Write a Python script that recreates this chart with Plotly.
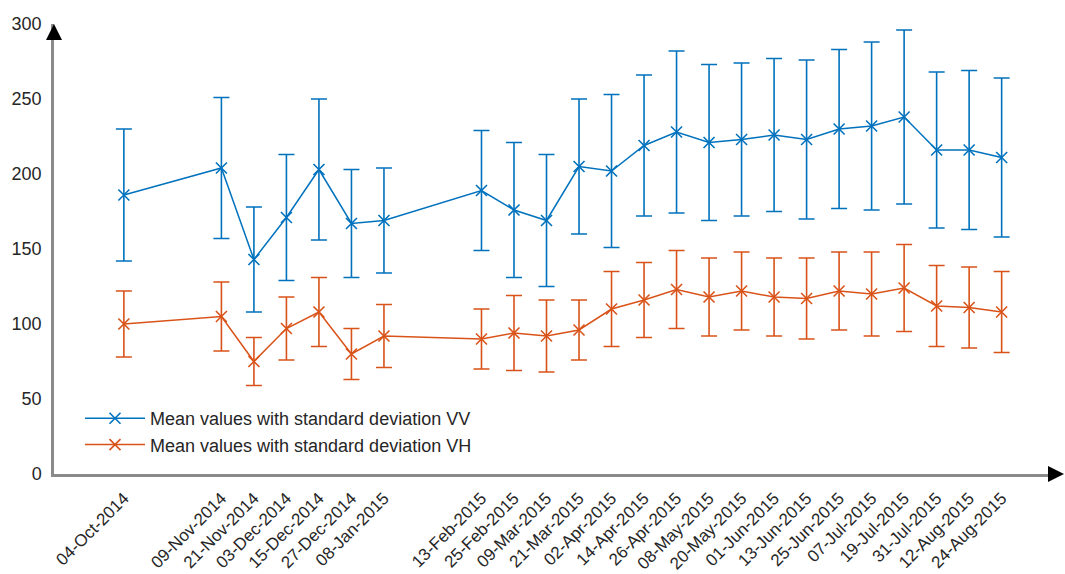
import plotly.graph_objects as go

# Acquisition dates (Sentinel-1 scenes)
dates = [
    "2014-10-04", "2014-11-09", "2014-11-21", "2014-12-03", "2014-12-15",
    "2014-12-27", "2015-01-08", "2015-02-13", "2015-02-25", "2015-03-09",
    "2015-03-21", "2015-04-02", "2015-04-14", "2015-04-26", "2015-05-08",
    "2015-05-20", "2015-06-01", "2015-06-13", "2015-06-25", "2015-07-07",
    "2015-07-19", "2015-07-31", "2015-08-12", "2015-08-24",
]
date_labels = [
    "04-Oct-2014", "09-Nov-2014", "21-Nov-2014", "03-Dec-2014", "15-Dec-2014",
    "27-Dec-2014", "08-Jan-2015", "13-Feb-2015", "25-Feb-2015", "09-Mar-2015",
    "21-Mar-2015", "02-Apr-2015", "14-Apr-2015", "26-Apr-2015", "08-May-2015",
    "20-May-2015", "01-Jun-2015", "13-Jun-2015", "25-Jun-2015", "07-Jul-2015",
    "19-Jul-2015", "31-Jul-2015", "12-Aug-2015", "24-Aug-2015",
]

# VV polarisation: mean and standard deviation
vv_mean = [186, 204, 143, 171, 203, 167, 169, 189, 176, 169, 205, 202,
           219, 228, 221, 223, 226, 223, 230, 232, 238, 216, 216, 211]
vv_std = [44, 47, 35, 42, 47, 36, 35, 40, 45, 44, 45, 51,
          47, 54, 52, 51, 51, 53, 53, 56, 58, 52, 53, 53]

# VH polarisation: mean and standard deviation
vh_mean = [100, 105, 75, 97, 108, 80, 92, 90, 94, 92, 96, 110,
           116, 123, 118, 122, 118, 117, 122, 120, 124, 112, 111, 108]
vh_std = [22, 23, 16, 21, 23, 17, 21, 20, 25, 24, 20, 25,
          25, 26, 26, 26, 26, 27, 26, 28, 29, 27, 27, 27]

y_ticks = [0, 50, 100, 150, 200, 250, 300]

BLUE = "#0072BD"
ORANGE = "#D95319"
AXIS_GREY = "#8a8a8a"
TEXT = "#262626"
FONT = "Liberation Sans, Arial, sans-serif"

W, H = 1065, 574
ML, MR, MT, MB = 54, 13, 24, 100


def series(name, mean, std, color):
    return go.Scatter(
        x=dates, y=mean, name=name, mode="lines+markers",
        line=dict(color=color, width=1.5),
        marker=dict(symbol="x-thin", size=11,
                    line=dict(color=color, width=1.6)),
        error_y=dict(type="data", array=std, visible=True,
                     color=color, thickness=1.6, width=8),
    )


fig = go.Figure()
fig.add_trace(series("Mean values with standard deviation VV", vv_mean, vv_std, BLUE))
fig.add_trace(series("Mean values with standard deviation VH", vh_mean, vh_std, ORANGE))

plot_w = W - ML - MR
plot_h = H - MT - MB

fig.update_layout(
    width=W, height=H,
    margin=dict(l=ML, r=MR, t=MT, b=MB, pad=0, autoexpand=False),
    paper_bgcolor="white", plot_bgcolor="white",
    font=dict(family=FONT, size=18, color=TEXT),
    showlegend=True,
    legend=dict(
        x=(80 - ML) / plot_w, y=(H - MB - 400) / plot_h,
        xanchor="left", yanchor="top",
        bgcolor="rgba(0,0,0,0)", borderwidth=0,
        font=dict(family=FONT, size=18, color=TEXT),
        itemwidth=60, tracegroupgap=0,
    ),
    xaxis=dict(
        type="date", automargin=False,
        range=["2014-09-08 05:00", "2015-09-11 14:00"],
        tickmode="array", tickvals=dates, ticktext=date_labels,
        tickangle=-45, ticks="outside", ticklen=5, tickcolor="rgba(0,0,0,0)",
        tickfont=dict(family=FONT, size=17, color=TEXT),
        showgrid=False, zeroline=False,
        showline=True, linecolor=AXIS_GREY, linewidth=2.5,
    ),
    yaxis=dict(
        range=[0, 300], automargin=False,
        tickmode="array", tickvals=y_ticks,
        ticks="outside", ticklen=6, tickcolor="rgba(0,0,0,0)",
        tickfont=dict(family=FONT, size=18, color=TEXT),
        showgrid=False, zeroline=False,
        showline=True, linecolor=AXIS_GREY, linewidth=2.5,
    ),
)

# Arrowheads at the ends of both axes
fig.add_annotation(
    xref="paper", yref="paper", x=1 + 12 / plot_w, y=0,
    ax=-14, ay=0, axref="pixel", ayref="pixel",
    showarrow=True, arrowhead=2, arrowsize=1.6, arrowwidth=2,
    arrowcolor="black", text="",
)
fig.add_annotation(
    xref="paper", yref="paper", x=0, y=1,
    ax=0, ay=14, axref="pixel", ayref="pixel",
    showarrow=True, arrowhead=2, arrowsize=1.6, arrowwidth=2,
    arrowcolor="black", text="",
)

fig.write_html("out.html")
